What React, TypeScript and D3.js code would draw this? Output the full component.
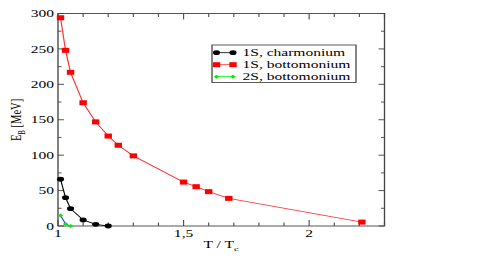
import { useEffect, useRef } from 'react'
import * as d3 from 'd3'

// T / Tc values and binding energies (MeV)
const charmT = [1.01, 1.03, 1.05, 1.1, 1.15, 1.2]
const charmE = [66, 40, 24.5, 8.5, 2.4, 0]

const bottom1T = [1.01, 1.03, 1.05, 1.1, 1.15, 1.2, 1.24, 1.3, 1.5, 1.55, 1.6, 1.68, 2.21]
const bottom1E = [294, 248, 217, 174, 147, 127, 114, 99, 62, 55.5, 48.5, 39, 5.5]

const bottom2T = [1.01, 1.03, 1.05]
const bottom2E = [15, 3, 0]

const xMajor = [1, 1.5, 2]
const xMajorLabels = ['1', '1,5', '2']
const yMajor = [0, 50, 100, 150, 200, 250, 300]

const legendLabels = ['1S, charmonium', '1S, bottomonium', '2S, bottomonium']

export default () => {
  const rootRef = useRef<SVGSVGElement>(null)

  useEffect(() => {
    const W = 498,
      H = 266
    // the original picture is stretched horizontally
    const sx = 1.48
    const font = '"Liberation Serif", "Times New Roman", serif'

    const root = d3.select(rootRef.current).attr('width', W).attr('height', H)
    root.selectAll('*').remove()
    root.append('rect').attr('width', W).attr('height', H).attr('fill', 'white')

    const svg = root.append('g').attr('transform', `scale(${sx},1)`)

    const x = d3.scaleLinear().domain([1, 2.3]).range([58 / sx, 384.5 / sx])
    const y = d3.scaleLinear().domain([0, 300]).range([226, 13.5])
    const [x0, x1] = x.range()
    const [y0, y1] = y.range()

    // ticks
    const xMinor = d3.range(11, 24).map((v) => v / 10).filter((v) => !xMajor.includes(v))
    const yMinor = d3.range(25, 300, 50)
    const tickColor = '#555'
    const drawXTicks = (vals: number[], len: number) => {
      vals.forEach((v) => {
        svg.append('line').attr('x1', x(v)).attr('x2', x(v)).attr('y1', y0).attr('y2', y0 - len)
          .attr('stroke', tickColor).attr('stroke-width', 0.8)
        svg.append('line').attr('x1', x(v)).attr('x2', x(v)).attr('y1', y1).attr('y2', y1 + len)
          .attr('stroke', tickColor).attr('stroke-width', 0.8)
      })
    }
    const drawYTicks = (vals: number[], len: number) => {
      vals.forEach((v) => {
        svg.append('line').attr('x1', x0).attr('x2', x0 + len / sx).attr('y1', y(v)).attr('y2', y(v))
          .attr('stroke', tickColor).attr('stroke-width', 1)
        svg.append('line').attr('x1', x1).attr('x2', x1 - len / sx).attr('y1', y(v)).attr('y2', y(v))
          .attr('stroke', tickColor).attr('stroke-width', 1)
      })
    }
    drawXTicks(xMajor, 6)
    drawXTicks(xMinor, 3.5)
    drawYTicks(yMajor, 6)
    drawYTicks(yMinor, 3.5)

    // frame
    svg.append('rect').attr('x', x0).attr('y', y1).attr('width', x1 - x0).attr('height', y0 - y1)
      .attr('fill', 'none').attr('stroke', '#444').attr('stroke-width', 0.9)

    // tick labels
    xMajor.forEach((v, i) => {
      svg.append('text').attr('x', x(v)).attr('y', 237).attr('text-anchor', 'middle')
        .attr('font-family', font).attr('font-size', 10.5).text(xMajorLabels[i])
    })
    yMajor.forEach((v) => {
      svg.append('text').attr('x', 54 / sx).attr('y', y(v) + 3.6).attr('text-anchor', 'end')
        .attr('font-family', font).attr('font-size', 10.5).text(String(v))
    })

    // axis titles
    const xt = svg.append('text').attr('x', 221 / sx).attr('y', 248).attr('text-anchor', 'middle')
      .attr('font-family', font).attr('font-size', 10.5)
    xt.append('tspan').text('T / T')
    xt.append('tspan').attr('font-size', 7).attr('dy', 3).text('c')

    const yt = svg.append('text').attr('transform', `translate(${21 / sx},120) rotate(-90)`)
      .attr('text-anchor', 'middle').attr('font-family', font).attr('font-size', 10.5)
    yt.append('tspan').text('E')
    yt.append('tspan').attr('font-size', 7).attr('dy', 3).text('B')
    yt.append('tspan').attr('dy', -3).text(' [MeV]')

    // series
    const line = d3.line<[number, number]>().x((d) => x(d[0])).y((d) => y(d[1]))
    const charm = charmT.map((t, i) => [t, charmE[i]] as [number, number])
    const b1 = bottom1T.map((t, i) => [t, bottom1E[i]] as [number, number])
    const b2 = bottom2T.map((t, i) => [t, bottom2E[i]] as [number, number])

    svg.append('path').attr('d', line(b1)).attr('fill', 'none').attr('stroke', '#ff3030').attr('stroke-width', 0.8)
    svg.append('path').attr('d', line(charm)).attr('fill', 'none').attr('stroke', 'black').attr('stroke-width', 0.8)
    svg.append('path').attr('d', line(b2)).attr('fill', 'none').attr('stroke', '#2040ff').attr('stroke-width', 0.8)

    const square = (g: any, cx: number, cy: number) =>
      g.append('rect').attr('x', cx - 2.5).attr('y', cy - 2.5).attr('width', 5).attr('height', 5).attr('fill', '#ff0000')
    const circle = (g: any, cx: number, cy: number) =>
      g.append('circle').attr('cx', cx).attr('cy', cy).attr('r', 2.4).attr('fill', 'black')
    const diamond = (g: any, cx: number, cy: number) =>
      g.append('path').attr('d', `M${cx - 1.8},${cy}L${cx},${cy - 2}L${cx + 1.8},${cy}L${cx},${cy + 2}Z`).attr('fill', '#00ee00')

    b1.forEach((d) => square(svg, x(d[0]), y(d[1])))
    charm.forEach((d) => circle(svg, x(d[0]), y(d[1])))
    b2.forEach((d) => diamond(svg, x(d[0]), y(d[1])))

    // legend
    const lg = svg.append('g')
    lg.append('rect').attr('x', 212 / sx).attr('y', 45).attr('width', (356 - 212) / sx).attr('height', 37.5)
      .attr('fill', 'white').attr('stroke', '#333').attr('stroke-width', 0.8)
    const colors = ['black', '#ff3030', '#00ee00']
    const markers = [circle, square, diamond]
    legendLabels.forEach((lab, i) => {
      const ly = 52.7 + i * 12
      const lx0 = 216.5 / sx,
        lx1 = 233 / sx
      lg.append('line').attr('x1', lx0).attr('x2', lx1).attr('y1', ly).attr('y2', ly)
        .attr('stroke', colors[i]).attr('stroke-width', 0.8)
      markers[i](lg, lx0, ly)
      markers[i](lg, lx1, ly)
      lg.append('text').attr('x', 242.5 / sx).attr('y', ly + 3.6).attr('font-family', font)
        .attr('font-size', 10.5).text(lab)
    })
  }, [])

  return <svg ref={rootRef} style={{ position: 'absolute', left: 0, top: 0 }}></svg>
}
